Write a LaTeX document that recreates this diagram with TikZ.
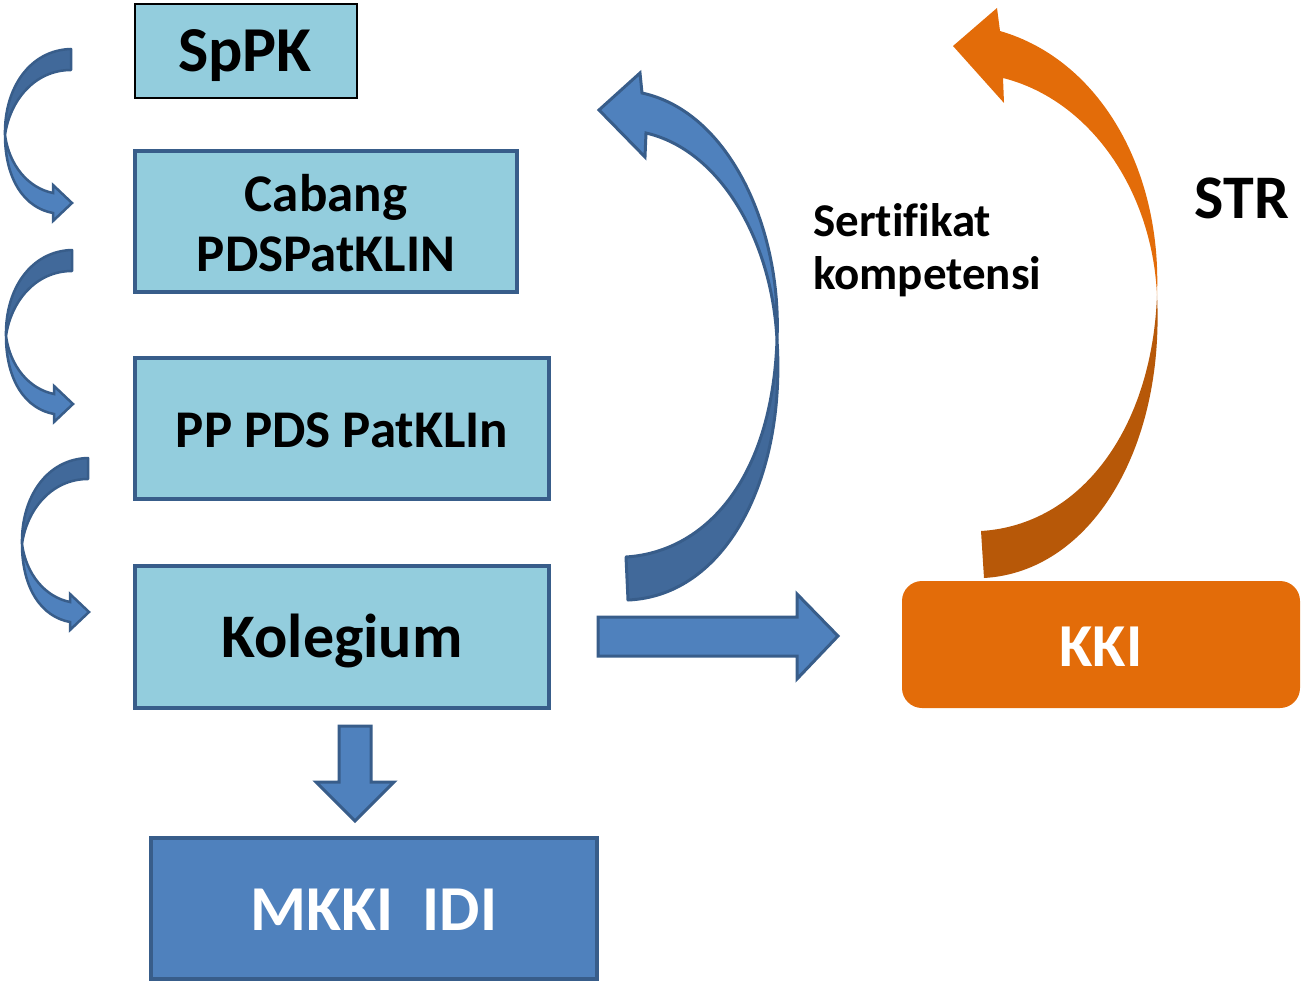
\documentclass[tikz,border=0pt]{standalone}
\usepackage{fontspec}
\setmainfont{Carlito}[Ligatures=NoCommon]
\definecolor{lightblue}{HTML}{93CDDD}
\definecolor{boxborder}{HTML}{385D8A}
\definecolor{accblue}{HTML}{4F81BD}
\definecolor{darkblue}{HTML}{41699A}
\definecolor{accorange}{HTML}{E36C09}
\definecolor{darkorange}{HTML}{B75808}
\begin{document}
\begin{tikzpicture}[x=1pt,y=-1pt,
  lbox/.style={draw=boxborder, line width=3.5pt, fill=lightblue, inner sep=0pt},
  txt/.style={anchor=base, inner sep=0pt, font=\bfseries\fontsize{53}{60}\selectfont},
  blk/.style={fill=accblue, draw=boxborder, line width=3pt, line join=miter},
  blkdark/.style={fill=darkblue, draw=boxborder, line width=3pt, line join=round},
  blklight/.style={fill=accblue, draw=boxborder, line width=3pt, line join=miter},
  smalldark/.style={fill=darkblue, draw=boxborder, line width=2.5pt, line join=round},
  smalllight/.style={fill=accblue, draw=boxborder, line width=2.5pt, line join=miter}]
\useasboundingbox (0,0) rectangle (1301,984);

% boxes
\node[lbox, draw=black, line width=2pt, minimum width=222pt, minimum height=94pt] (sppk) at (246,51) {};
\node[lbox, minimum width=382pt, minimum height=141pt] (cabang) at (326,221.5) {};
\node[lbox, minimum width=414pt, minimum height=141pt] (pp) at (342,428.5) {};
\node[lbox, minimum width=414pt, minimum height=142pt] (kolegium) at (342,637) {};
\node[fill=accblue, draw=boxborder, line width=3.5pt, inner sep=0pt, minimum width=446pt, minimum height=141pt] (mkki) at (374,908.5) {};
\node[fill=accorange, draw=none, rounded corners=20pt, inner sep=0pt, minimum width=398pt, minimum height=127pt] (kki) at (1101,644.5) {};

% texts
\node[txt, font=\bfseries\fontsize{64}{70}\selectfont] (tsppk) at (245,72) {SpPK};
\node[txt] (tcab1) at (326,212) {Cabang};
\node[txt] (tcab2) at (326,272) {PDSPatKLIN};
\node[txt] (tpp) at (342,447) {PP PDS PatKLIn};
\node[txt, font=\bfseries\fontsize{62}{70}\selectfont] (tkol) at (342,657) {Kolegium};
\node[txt, text=white, font=\bfseries\fontsize{64}{70}\selectfont] (tmkki) at (374,930) {MKKI\ \ IDI};
\node[txt, text=white, font=\bfseries\fontsize{61}{70}\selectfont] (tkki) at (1101,666) {KKI};
\node[txt, font=\bfseries\fontsize{62}{70}\selectfont] (tstr) at (1242,219) {STR};
\node[anchor=base west, inner sep=0pt, font=\bfseries\fontsize{47}{53}\selectfont] (tsert1) at (813,237) {Sertifikat};
\node[anchor=base west, inner sep=0pt, font=\bfseries\fontsize{47}{53}\selectfont] (tsert2) at (813,290) {kompetensi};

% straight block arrows
\draw[blk] (598,617) -- (797,617) -- (797,594) -- (838,636) -- (797,679) -- (797,656) -- (598,656) -- cycle;
\draw[blk] (339,726) -- (371,726) -- (371,782) -- (394,782) -- (355,821) -- (316,782) -- (339,782) -- cycle;

% big blue curved arrow
\draw[blkdark] (626,557) .. controls (705,552) and (772,480) .. (777,340)
  .. controls (786,480) and (725,596) .. (628,600) -- cycle;
\draw[blklight] (777,340) .. controls (772,240) and (720,150) .. (646,133)
  -- (645,157) -- (599,110) -- (640,73) -- (642,93)
  .. controls (730,112) and (782,230) .. (777,340) -- cycle;

% orange curved arrow
\fill[darkorange] (981,531) .. controls (1080,525) and (1152,430) .. (1157,295)
  .. controls (1165,450) and (1090,572) .. (984,578) -- cycle;
\fill[accorange] (1157,295) .. controls (1152,190) and (1090,100) .. (1003,78)
  -- (1004,103) -- (953,46) -- (997,8) -- (1000,31)
  .. controls (1100,60) and (1162,170) .. (1157,295) -- cycle;

% small curved arrows on the left
\foreach \dx/\dy in {0/0, 1/201, 17/409}{
  \begin{scope}[shift={(\dx,\dy)}]
    \draw[smalldark] (71,49) .. controls (30,50) and (4,88) .. (5,135)
      .. controls (10,100) and (35,70) .. (71,70) -- cycle;
    \draw[smalllight] (5,135) .. controls (5,180) and (25,208) .. (53,213)
      -- (53,221) -- (72,203) -- (53,185) -- (53,193)
      .. controls (28,188) and (9,165) .. (5,135) -- cycle;
  \end{scope}
}
\end{tikzpicture}
\end{document}
